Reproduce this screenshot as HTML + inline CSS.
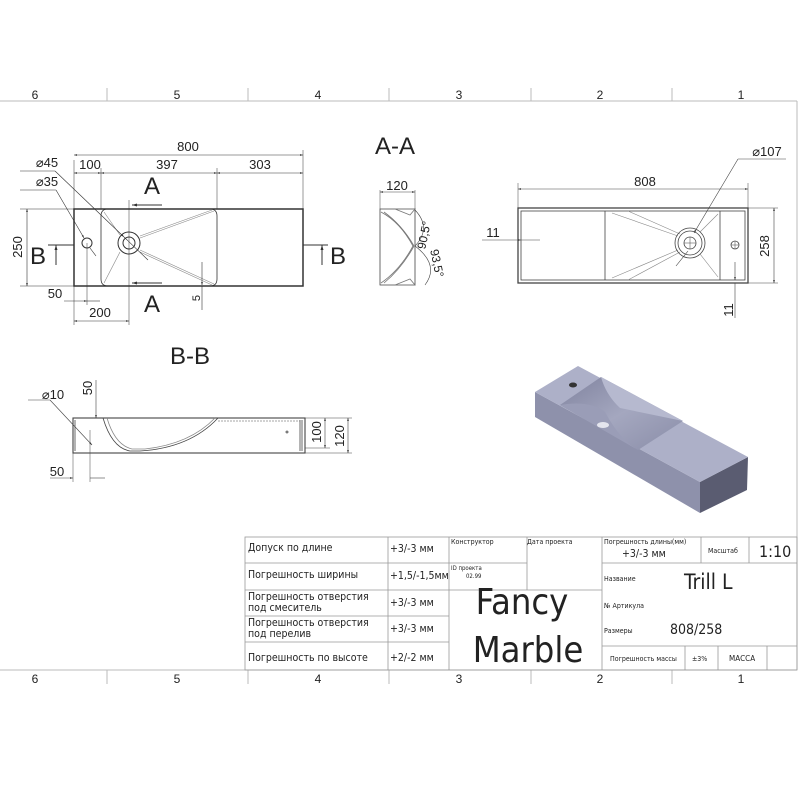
<!DOCTYPE html>
<html><head><meta charset="utf-8"><style>
html,body{margin:0;padding:0;background:#fff}
svg{display:block}
text{font-family:"Liberation Sans","DejaVu Sans",sans-serif;fill:#222}
.t{font-family:"DejaVu Sans Condensed","Liberation Sans Narrow","Liberation Sans",sans-serif;fill:#222}
</style></head><body>
<svg width="800" height="800" viewBox="0 0 800 800" xmlns="http://www.w3.org/2000/svg">
<defs>
<marker id="a" viewBox="0 0 10 10" refX="10" refY="5" markerWidth="7" markerHeight="5" orient="auto-start-reverse"><path d="M0,2 L10,5 L0,8 z" fill="#333"/></marker>
<linearGradient id="bw" x1="0" y1="0" x2="1" y2="1"><stop offset="0" stop-color="#7f829e"/><stop offset="0.5" stop-color="#a4a7bf"/><stop offset="1" stop-color="#8a8da8"/></linearGradient>
</defs>
<g stroke="#bbb" stroke-width="1" fill="none">
<line x1="0" y1="101" x2="797" y2="101"/>
<line x1="797" y1="101" x2="797" y2="670"/>
<line x1="0" y1="670" x2="797" y2="670"/>
<line x1="107" y1="88" x2="107" y2="101"/><line x1="248" y1="88" x2="248" y2="101"/>
<line x1="389" y1="88" x2="389" y2="101"/><line x1="531" y1="88" x2="531" y2="101"/>
<line x1="672" y1="88" x2="672" y2="101"/>
<line x1="107" y1="670" x2="107" y2="684"/><line x1="248" y1="670" x2="248" y2="684"/>
<line x1="389" y1="670" x2="389" y2="684"/><line x1="531" y1="670" x2="531" y2="684"/>
<line x1="672" y1="670" x2="672" y2="684"/>
</g>
<g font-size="12" text-anchor="middle">
<text x="35" y="99">6</text><text x="177" y="99">5</text><text x="318" y="99">4</text><text x="459" y="99">3</text><text x="600" y="99">2</text><text x="741" y="99">1</text>
<text x="35" y="683">6</text><text x="177" y="683">5</text><text x="318" y="683">4</text><text x="459" y="683">3</text><text x="600" y="683">2</text><text x="741" y="683">1</text>
</g>

<g stroke="#333" fill="none" stroke-width="1">
<rect x="74" y="209" width="229" height="77" stroke-width="1.5"/>
<path d="M101,216 Q101,209 108,209 L210,209 Q217,209 217,216 L217,279 Q217,286 210,286 L108,286 Q101,286 101,279 Z" stroke-width="0.8"/>
<g stroke="#888" stroke-width="0.6">
<line x1="140" y1="238" x2="214" y2="211"/><line x1="140" y1="236" x2="212" y2="210"/>
<line x1="140" y1="250" x2="214" y2="284"/><line x1="140" y1="252" x2="212" y2="285"/>
<line x1="120" y1="252" x2="104" y2="283"/><line x1="120" y1="235" x2="104" y2="212"/>
</g>
<circle cx="129" cy="243" r="11"/><circle cx="129" cy="243" r="6"/>
<circle cx="87" cy="243" r="5"/>
<line x1="74" y1="160" x2="74" y2="209" stroke-width="0.5"/>
<line x1="303" y1="150" x2="303" y2="209" stroke-width="0.5"/>
<line x1="101" y1="168" x2="101" y2="209" stroke-width="0.5"/>
<line x1="217" y1="168" x2="217" y2="209" stroke-width="0.5"/>
<line x1="74" y1="155" x2="303" y2="155" marker-start="url(#a)" marker-end="url(#a)" stroke-width="0.6"/>
<line x1="74" y1="173" x2="101" y2="173" marker-start="url(#a)" marker-end="url(#a)" stroke-width="0.6"/>
<line x1="101" y1="173" x2="217" y2="173" marker-start="url(#a)" marker-end="url(#a)" stroke-width="0.6"/>
<line x1="217" y1="173" x2="303" y2="173" marker-start="url(#a)" marker-end="url(#a)" stroke-width="0.6"/>
<line x1="20" y1="209" x2="74" y2="209" stroke-width="0.5"/><line x1="20" y1="286" x2="74" y2="286" stroke-width="0.5"/>
<line x1="27" y1="209" x2="27" y2="286" marker-start="url(#a)" marker-end="url(#a)" stroke-width="0.6"/>
<line x1="20" y1="171" x2="55" y2="171" stroke-width="0.5"/><line x1="55" y1="171" x2="124" y2="237" marker-end="url(#a)" stroke-width="0.6"/><line x1="124" y1="237" x2="148" y2="260" stroke-width="0.6"/>
<line x1="20" y1="190" x2="56" y2="190" stroke-width="0.5"/><line x1="56" y1="190" x2="84" y2="238" marker-end="url(#a)" stroke-width="0.6"/><line x1="90" y1="248" x2="96" y2="256" stroke-width="0.6"/>
<line x1="87" y1="243" x2="87" y2="305" stroke-width="0.5"/>
<line x1="129" y1="200" x2="129" y2="325" stroke-width="0.5"/>
<line x1="74" y1="286" x2="74" y2="325" stroke-width="0.5"/>
<line x1="64" y1="301" x2="87" y2="301" marker-end="url(#a)" stroke-width="0.6"/><line x1="87" y1="301" x2="100" y2="301" stroke-width="0.6"/>
<line x1="74" y1="321" x2="129" y2="321" marker-start="url(#a)" marker-end="url(#a)" stroke-width="0.6"/>
<line x1="202" y1="262" x2="202" y2="285" marker-end="url(#a)" stroke-width="0.6"/><line x1="202" y1="286" x2="202" y2="310" stroke-width="0.6"/>
<line x1="162" y1="205" x2="132" y2="205" marker-end="url(#a)" stroke-width="1"/>
<line x1="162" y1="283" x2="132" y2="283" marker-end="url(#a)" stroke-width="1"/>
<line x1="48" y1="245" x2="74" y2="245" stroke-width="1"/><line x1="56" y1="265" x2="56" y2="245" marker-end="url(#a)" stroke-width="1"/>
<line x1="303" y1="245" x2="328" y2="245" stroke-width="1"/><line x1="322" y1="265" x2="322" y2="245" marker-end="url(#a)" stroke-width="1"/>
</g>
<g font-size="13" text-anchor="middle">
<text x="188" y="151">800</text><text x="90" y="169">100</text><text x="167" y="169">397</text><text x="260" y="169">303</text>
<text x="47" y="167">⌀45</text><text x="47" y="186">⌀35</text>
<text x="55" y="298">50</text><text x="100" y="317">200</text>
<text transform="translate(22,247) rotate(-90)">250</text>
<text transform="translate(200,298) rotate(-90)" font-size="11">5</text>
</g>
<g font-size="24" text-anchor="middle">
<text x="152" y="194">A</text><text x="152" y="312">A</text>
<text x="38" y="264">B</text><text x="338" y="264">B</text>
<text x="395" y="154">A-A</text><text x="190" y="364">B-B</text>
</g>

<g stroke="#444" fill="none" stroke-width="0.8">
<path d="M380,209 L415,209 L415,285 L380,285 Z"/>
<path d="M381,212 Q400,222 413,246 Q400,270 381,283" stroke="#777"/>
<path d="M384,212 Q402,225 414,246 Q402,268 384,283" stroke="#777"/>
<path d="M395,209 L415,209 L410,215 Z M395,285 L415,285 L410,279 Z" stroke="#777"/>
<line x1="380" y1="190" x2="380" y2="209" stroke-width="0.5"/><line x1="415" y1="190" x2="415" y2="209" stroke-width="0.5"/>
<line x1="380" y1="192" x2="415" y2="192" marker-start="url(#a)" marker-end="url(#a)" stroke-width="0.6"/>
<path d="M415,210 Q432,228 415,246" stroke-width="0.6"/>
<path d="M415,246 Q440,265 425,285" stroke-width="0.6"/>
</g>
<text x="397" y="190" font-size="13" text-anchor="middle">120</text>
<text transform="translate(428,236) rotate(-78)" font-size="12" text-anchor="middle">90,5°</text>
<text transform="translate(433,264) rotate(78)" font-size="12" text-anchor="middle">93,5°</text>

<g stroke="#444" fill="none" stroke-width="0.8">
<rect x="518" y="208" width="230" height="75" stroke-width="1.3"/>
<rect x="521" y="211" width="224" height="69"/>
<line x1="605" y1="211" x2="605" y2="280"/>
<line x1="720" y1="211" x2="720" y2="280"/>
<g stroke="#888" stroke-width="0.6">
<line x1="612" y1="213" x2="678" y2="236"/><line x1="612" y1="278" x2="678" y2="250"/>
<line x1="628" y1="211" x2="680" y2="234"/><line x1="628" y1="280" x2="680" y2="252"/>
<line x1="700" y1="232" x2="718" y2="214"/><line x1="700" y1="254" x2="718" y2="277"/>
</g>
<circle cx="690" cy="243" r="15"/><circle cx="690" cy="243" r="12"/><circle cx="690" cy="243" r="6"/>
<line x1="684" y1="243" x2="696" y2="243" stroke-width="0.5"/><line x1="690" y1="237" x2="690" y2="249" stroke-width="0.5"/>
<circle cx="735" cy="245" r="4"/><line x1="731" y1="245" x2="739" y2="245" stroke-width="0.5"/><line x1="735" y1="241" x2="735" y2="249" stroke-width="0.5"/>
<line x1="518" y1="183" x2="518" y2="208" stroke-width="0.5"/><line x1="748" y1="183" x2="748" y2="208" stroke-width="0.5"/>
<line x1="518" y1="189" x2="748" y2="189" marker-start="url(#a)" marker-end="url(#a)" stroke-width="0.6"/>
<line x1="748" y1="208" x2="778" y2="208" stroke-width="0.5"/><line x1="748" y1="283" x2="778" y2="283" stroke-width="0.5"/>
<line x1="774" y1="208" x2="774" y2="283" marker-start="url(#a)" marker-end="url(#a)" stroke-width="0.6"/>
<line x1="786" y1="159" x2="738" y2="159" stroke-width="0.5"/><line x1="738" y1="159" x2="694" y2="233" marker-end="url(#a)" stroke-width="0.6"/><line x1="688" y1="251" x2="676" y2="266" stroke-width="0.6"/>
<line x1="482" y1="240" x2="521" y2="240" marker-end="url(#a)" stroke-width="0.6"/><line x1="521" y1="240" x2="540" y2="240" stroke-width="0.6"/>
<line x1="735" y1="262" x2="735" y2="280" marker-end="url(#a)" stroke-width="0.6"/><line x1="735" y1="283" x2="735" y2="318" stroke-width="0.6"/>
</g>
<g font-size="13" text-anchor="middle">
<text x="645" y="186">808</text><text x="767" y="156">⌀107</text><text x="493" y="237">11</text>
<text transform="translate(769,246) rotate(-90)">258</text>
<text transform="translate(733,310) rotate(-90)">11</text>
</g>

<g stroke="#444" fill="none" stroke-width="0.8">
<rect x="73" y="418" width="232" height="35" stroke-width="1.1"/>
<line x1="75" y1="420" x2="75" y2="451"/><line x1="302" y1="420" x2="302" y2="451"/><line x1="300" y1="420" x2="300" y2="451"/>
<path d="M103,418 Q112,448 130,451 L140,451 Q190,448 218,418" />
<path d="M107,418 Q115,445 132,449 L145,449 Q190,444 215,418" stroke="#888"/>
<line x1="218" y1="421" x2="300" y2="421" stroke="#888" stroke-dasharray="2,1"/>
<circle cx="287" cy="432" r="1"/>
<line x1="28" y1="400" x2="50" y2="400" stroke-width="0.5"/><line x1="50" y1="400" x2="92" y2="445" marker-end="url(#a)" stroke-width="0.6"/>
<line x1="96" y1="380" x2="96" y2="418" marker-end="url(#a)" stroke-width="0.6"/>
<line x1="88" y1="418" x2="96" y2="418" stroke-width="0.5"/>
<line x1="73" y1="453" x2="73" y2="482" stroke-width="0.5"/><line x1="90" y1="430" x2="90" y2="482" stroke-width="0.5"/>
<line x1="50" y1="478" x2="73" y2="478" marker-end="url(#a)" stroke-width="0.6"/><line x1="90" y1="478" x2="105" y2="478" stroke-width="0.6"/>
<line x1="305" y1="418" x2="352" y2="418" stroke-width="0.5"/><line x1="305" y1="448" x2="330" y2="448" stroke-width="0.5"/><line x1="305" y1="453" x2="352" y2="453" stroke-width="0.5"/>
<line x1="325" y1="418" x2="325" y2="448" marker-start="url(#a)" marker-end="url(#a)" stroke-width="0.6"/>
<line x1="348" y1="418" x2="348" y2="453" marker-start="url(#a)" marker-end="url(#a)" stroke-width="0.6"/>
</g>
<g font-size="13" text-anchor="middle">
<text x="53" y="399">⌀10</text><text x="57" y="476">50</text>
<text transform="translate(92,388) rotate(-90)">50</text>
<text transform="translate(321,432) rotate(-90)">100</text>
<text transform="translate(344,436) rotate(-90)">120</text>
</g>

<!-- ISO -->
<polygon points="535,392 700,482 700,513 535,417" fill="#8e91ab"/>
<polygon points="700,482 748,457 747,490 700,513" fill="#5a5c71"/>
<polygon points="535,392 578,366 748,457 700,482" fill="#adb0c8"/>
<polygon points="560,405 601,377 683,421 638,450" fill="url(#bw)"/>
<path d="M560,405 Q590,400 605,412 Q620,440 638,450 Z" fill="#9a9db7"/>
<path d="M601,377 Q606,395 620,408 L683,421 Z" fill="#b6b9cf"/>
<ellipse cx="603" cy="425" rx="6" ry="3" fill="#e4e5ee"/>
<ellipse cx="573" cy="385" rx="4" ry="2.5" fill="#333"/>

<!-- Title block -->
<g stroke="#999" stroke-width="0.8" fill="none">
<rect x="245" y="537" width="552" height="133"/>
<line x1="245" y1="563" x2="449" y2="563"/><line x1="245" y1="590" x2="602" y2="590"/>
<line x1="245" y1="616" x2="449" y2="616"/><line x1="245" y1="642" x2="449" y2="642"/>
<line x1="388" y1="537" x2="388" y2="670"/><line x1="449" y1="537" x2="449" y2="670"/>
<line x1="527" y1="537" x2="527" y2="590"/><line x1="602" y1="537" x2="602" y2="670"/>
<line x1="449" y1="563" x2="527" y2="563"/>
<line x1="602" y1="563" x2="797" y2="563"/><line x1="602" y1="646" x2="797" y2="646"/>
<line x1="701" y1="537" x2="701" y2="563"/><line x1="749" y1="537" x2="749" y2="563"/>
<line x1="685" y1="646" x2="685" y2="670"/><line x1="718" y1="646" x2="718" y2="670"/><line x1="767" y1="646" x2="767" y2="670"/>
</g>
<g class="t" font-size="10.5">
<text x="248" y="551" class="t">Допуск по длине</text>
<text x="248" y="578" class="t">Погрешность ширины</text>
<text x="248" y="600" class="t">Погрешность отверстия</text><text x="248" y="611" class="t">под смеситель</text>
<text x="248" y="626" class="t">Погрешность отверстия</text><text x="248" y="637" class="t">под перелив</text>
<text x="248" y="661" class="t">Погрешность по высоте</text>
<text x="390" y="552" class="t">+3/-3 мм</text><text x="390" y="579" class="t">+1,5/-1,5мм</text>
<text x="390" y="606" class="t">+3/-3 мм</text><text x="390" y="632" class="t">+3/-3 мм</text><text x="390" y="661" class="t">+2/-2 мм</text>
<text x="451" y="544" font-size="7" class="t">Конструктор</text><text x="527" y="544" font-size="7" class="t">Дата проекта</text>
<text x="451" y="570" font-size="6" class="t">ID проекта</text><text x="466" y="578" font-size="6" class="t">02.99</text>
<text x="604" y="544" font-size="7" class="t">Погрешность длины(мм)</text>
<text x="622" y="557" class="t">+3/-3 мм</text>
<text x="708" y="553" font-size="7" class="t">Масштаб</text>
<text x="759" y="557" font-size="16" class="t">1:10</text>
<text x="604" y="581" font-size="7" class="t">Название</text>
<text x="684" y="589" font-size="21" class="t">Trill L</text>
<text x="604" y="608" font-size="7" class="t">№ Артикула</text>
<text x="604" y="633" font-size="7" class="t">Размеры</text>
<text x="670" y="634" font-size="14" class="t">808/258</text>
<text x="610" y="661" font-size="7" class="t">Погрешность массы</text>
<text x="692" y="661" font-size="7" class="t">±3%</text>
<text x="729" y="661" font-size="8" class="t">МАССА</text>
<text x="522" y="614" font-size="36" text-anchor="middle" class="t">Fancy</text>
<text x="528" y="662" font-size="36" text-anchor="middle" class="t">Marble</text>
</g>
</svg>
</body></html>
